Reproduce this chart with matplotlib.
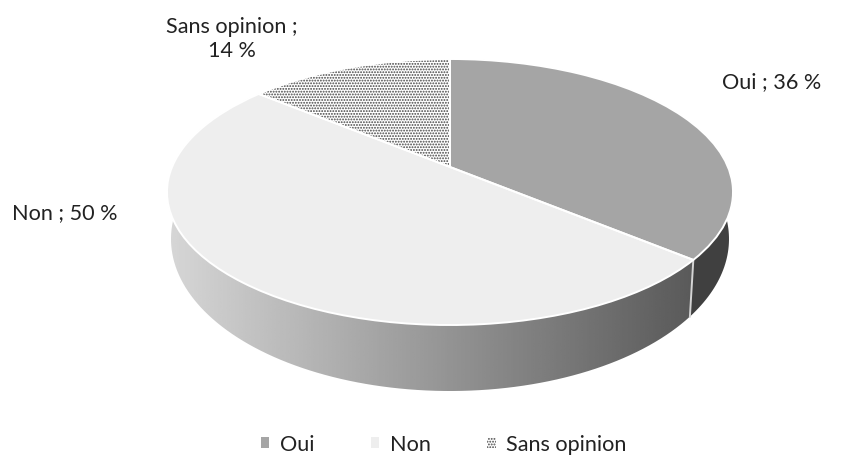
import numpy as np
import matplotlib

matplotlib.use("Agg")
import matplotlib.pyplot as plt
from matplotlib.patches import PathPatch, Wedge
from matplotlib.path import Path
from matplotlib.transforms import Transform

categories = ["Oui", "Non", "Sans opinion"]
values = [36, 50, 14]
colors = ["#a5a5a5", "#eeeeee", "#ffffff"]

plt.rcParams["font.family"] = ["Lato", "DejaVu Sans"]
plt.rcParams["hatch.linewidth"] = 0.9

# the top face is a circle seen in perspective, so its centre sits above
# the middle of the ellipse. Same map for the lower rim, with other numbers.
TOP = dict(cx=450, cy=193, hw=283, hh=133, k=0.188)
RIM = dict(cx=450, cy=240, hw=279, hh=152, k=0.188)


def project(u, v, cx, cy, hw, hh, k):
    d = 1 + k * v
    return cx + hw * np.sqrt(1 - k**2) * u / d, cy - hh * (v + k) / d


class Perspective(Transform):
    input_dims = 2
    output_dims = 2

    def __init__(self, **params):
        super().__init__()
        self.params = params

    def transform_non_affine(self, xy):
        xy = np.asarray(xy, dtype=float)
        return np.column_stack(project(xy[:, 0], xy[:, 1], **self.params))


def wall_path(start, stop):
    # clockwise degrees from 12 o'clock, top arc then lower rim backwards
    t = np.radians(np.linspace(start, stop, 120))
    top = np.column_stack(project(np.sin(t), np.cos(t), **TOP))
    rim = np.column_stack(project(np.sin(t), np.cos(t), **RIM))
    return Path(np.vstack([top, rim[::-1], top[:1]]), closed=True)


fig = plt.figure(figsize=(8.51, 4.56), dpi=100)
ax = fig.add_axes([0, 0, 1, 1])

wedges, _ = ax.pie(values, colors=colors, startangle=90, counterclock=False, labels=None)
persp = Perspective(**TOP) + ax.transData
for w in wedges:
    w.set_transform(persp)
    w.set_linewidth(0)
    w.set_zorder(3)
wedges[2].set_edgecolor("#444444")
wedges[2].set_hatch("......")

# white outlines on the top face
for w in wedges:
    ax.add_patch(Wedge((0, 0), 1, w.theta1, w.theta2, fill=False, edgecolor="white",
                       linewidth=1.4, transform=persp, zorder=4))

edges = 360 * np.cumsum(values) / np.sum(values)

# side wall: flat dark for Oui, gradient for Non
dark = PathPatch(wall_path(0, edges[0]), facecolor="#404040", edgecolor="none", zorder=1,
                 transform=ax.transData)
ax.add_patch(dark)
shade = np.linspace(0.84, 0.35, 256).reshape(1, -1)
img = ax.imshow(shade, cmap="gray", vmin=0, vmax=1, extent=(168, 695, 400, 180),
                aspect="auto", zorder=1)
img.set_clip_path(PathPatch(wall_path(edges[0], edges[1]), transform=ax.transData))

t = np.radians(edges[0])
x0, y0 = project(np.sin(t), np.cos(t), **TOP)
x1, y1 = project(np.sin(t), np.cos(t), **RIM)
ax.plot([x0, x1], [y0, y1], color="#d4d4d4", lw=1.4, zorder=2)

ax.set_aspect("auto")
ax.set_xlim(0, 851)
ax.set_ylim(456, 0)
ax.axis("off")

ax.text(772, 82, f"{categories[0]} ; {values[0]} %", ha="center", va="center", fontsize=15.6, color="#222222")
ax.text(65, 213, f"{categories[1]} ; {values[1]} %", ha="center", va="center", fontsize=15.6, color="#222222")
ax.text(232, 39, f"{categories[2]} ;\n{values[2]} %", ha="center", va="center", fontsize=15.6,
        linespacing=1.25, color="#222222")

leg = ax.legend(wedges, categories, loc="center", bbox_to_anchor=(444 / 851, 1 - 445 / 456),
                ncol=3, frameon=False, fontsize=15.6, handlelength=0.38, handleheight=0.38,
                handletextpad=0.5, columnspacing=2.6, labelcolor="#222222")

fig.savefig("out.png", dpi=100)
